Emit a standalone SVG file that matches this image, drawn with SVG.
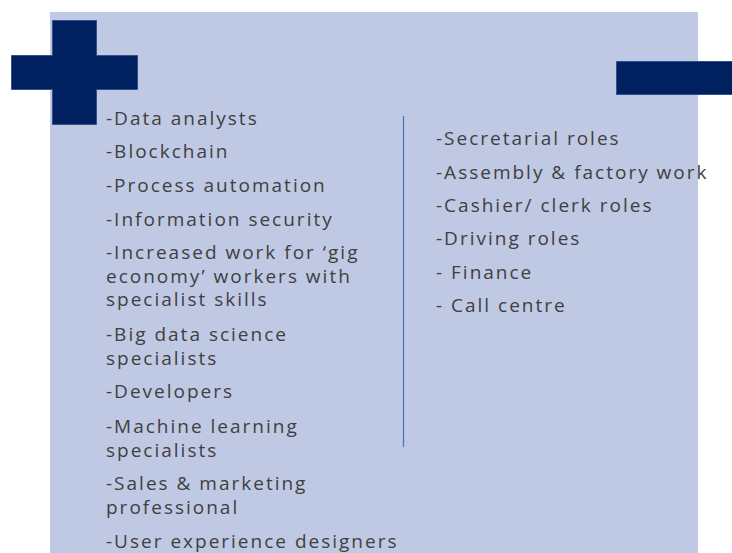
<svg xmlns="http://www.w3.org/2000/svg" width="732" height="553" viewBox="0 0 732 553">
<style>
.bg{fill:#BFC9E4;}
.shape{fill:#002060;stroke:#2F528F;stroke-width:1;}
.t{font-family:"Open Sans","Noto Sans",sans-serif;font-size:19px;letter-spacing:2px;fill:#404040;}
</style>
<rect width="732" height="553" fill="#FFFFFF"/>
<g id="panel">
<rect class="bg" x="50" y="12" width="648" height="541"/>
<line x1="403.5" y1="116" x2="403.5" y2="447" stroke="#4472C4" stroke-width="1.2"/>
</g>
<g id="plus">
<path class="shape" d="M52.5 20.5H96.5V55.5H137.5V89.5H96.5V124.5H52.5V89.5H11.5V55.5H52.5Z"/>
</g>
<g id="minus">
<rect class="shape" x="616.5" y="61.5" width="120" height="33"/>
</g>
<g id="left-list">
<text class="t" x="106" y="125">-Data analysts</text>
<text class="t" x="106" y="158">-Blockchain</text>
<text class="t" x="106" y="192">-Process automation</text>
<text class="t" x="106" y="226">-Information security</text>
<text class="t" x="106" y="259">-Increased work for ‘gig</text>
<text class="t" x="106" y="283">economy’ workers with</text>
<text class="t" x="106" y="306">specialist skills</text>
<text class="t" x="106" y="341">-Big data science</text>
<text class="t" x="106" y="365">specialists</text>
<text class="t" x="106" y="398">-Developers</text>
<text class="t" x="106" y="433">-Machine learning</text>
<text class="t" x="106" y="457">specialists</text>
<text class="t" x="106" y="490">-Sales &amp; marketing</text>
<text class="t" x="106" y="514">professional</text>
<text class="t" x="106" y="548">-User experience designers</text>
</g>
<g id="right-list">
<text class="t" x="436" y="145">-Secretarial roles</text>
<text class="t" x="436" y="179">-Assembly &amp; factory work</text>
<text class="t" x="436" y="212">-Cashier/ clerk roles</text>
<text class="t" x="436" y="245">-Driving roles</text>
<text class="t" x="436" y="279">- Finance</text>
<text class="t" x="436" y="312">- Call centre</text>
</g>
</svg>
